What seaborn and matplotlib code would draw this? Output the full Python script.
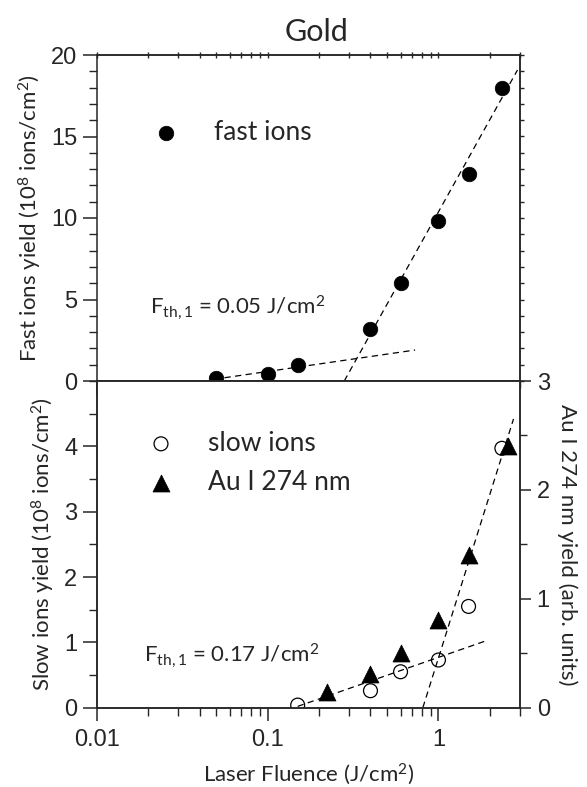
import matplotlib
matplotlib.use('Agg')
import matplotlib.pyplot as plt
import seaborn as sns
import pandas as pd
from matplotlib.ticker import FixedLocator, FixedFormatter, MultipleLocator, LogLocator, NullFormatter

# ---------------- data ----------------
fast_x = [0.05, 0.1, 0.15, 0.4, 0.6, 1.0, 1.5, 2.35]
fast_y = [0.16, 0.41, 0.98, 3.16, 6.0, 9.8, 12.7, 18.0]

slow_x = [0.15, 0.4, 0.6, 1.0, 1.5, 2.35]
slow_y = [0.04, 0.26, 0.55, 0.73, 1.55, 3.97]

au_x = [0.224, 0.4, 0.6, 1.0, 1.5, 2.55]
au_y = [0.147, 0.306, 0.50, 0.805, 1.40, 2.40]

# dashed fit lines (end points)
fast_fit_low_x = [0.056, 0.73]
fast_fit_low_y = [0.2, 1.9]
fast_fit_high_x = [0.281, 2.90]
fast_fit_high_y = [0.0, 19.08]
slow_fit_low_x = [0.15, 1.88]
slow_fit_low_y = [0.02, 1.02]
slow_fit_high_x = [0.81, 2.75]
slow_fit_high_y = [0.0, 4.42]

x_ticks = [0.01, 0.1, 1]
x_ticklabels = ['0.01', '0.1', '1']
fast_yticks = [0, 5, 10, 15, 20]
slow_yticks = [0, 1, 2, 3, 4]
au_yticks = [0, 1, 2, 3]

title = 'Gold'
xlabel = r'Laser Fluence (J/cm$^{2}$)'
ylabel_top = r'Fast ions yield (10$^{8}$ ions/cm$^{2}$)'
ylabel_bot = r'Slow ions yield (10$^{8}$ ions/cm$^{2}$)'
ylabel_right = 'Au I 274 nm yield (arb. units)'
ann_top = r'F$_{\rm th,1}$ = 0.05 J/cm$^{2}$'
ann_bot = r'F$_{\rm th,1}$ = 0.17 J/cm$^{2}$'

# ---------------- style ----------------
sns.set_theme(style='ticks')
plt.rcParams['font.family'] = ['Liberation Sans', 'DejaVu Sans']
plt.rcParams['mathtext.fontset'] = 'custom'
plt.rcParams['mathtext.rm'] = 'Lato'
plt.rcParams['mathtext.it'] = 'Lato:italic'
plt.rcParams['mathtext.bf'] = 'Lato:bold'
plt.rcParams['axes.linewidth'] = 1.1

LABEL_FONT = 'Lato'
LFS = 16      # axis labels
AFS = 16      # annotations
LEGFS = 19    # legend text
TFS = 17      # tick labels

W, H = 587, 787
fig = plt.figure(figsize=(W / 100, H / 100), dpi=100)
left, right = 96.7 / W, 520 / W
y_top_top = 1 - 55 / H
y_mid = 1 - 381 / H
y_bot = 1 - 707.7 / H

ax1 = fig.add_axes([left, y_mid, right - left, y_top_top - y_mid])
ax2 = fig.add_axes([left, y_bot, right - left, y_mid - y_bot])
ax3 = ax2.twinx()

dash = dict(color='black', lw=0.9, dashes=(5, 3.5))

# ---- top panel ----
df_fast = pd.DataFrame({'x': fast_x, 'y': fast_y})
sns.scatterplot(data=df_fast, x='x', y='y', ax=ax1, marker='o', s=110,
                color='black', edgecolor='black', linewidth=0.5, label='fast ions', zorder=3)
sns.lineplot(x=fast_fit_low_x, y=fast_fit_low_y, ax=ax1, **dash)
sns.lineplot(x=fast_fit_high_x, y=fast_fit_high_y, ax=ax1, **dash)

ax1.set_xscale('log')
ax1.set_xlim(0.01, 3.0)
ax1.set_ylim(0, 20)
ax1.yaxis.set_major_locator(FixedLocator(fast_yticks))
ax1.yaxis.set_minor_locator(MultipleLocator(1))
ax1.xaxis.set_major_locator(FixedLocator(x_ticks))
ax1.xaxis.set_minor_locator(LogLocator(base=10, subs=range(2, 10)))
ax1.xaxis.set_major_formatter(NullFormatter())
ax1.xaxis.set_minor_formatter(NullFormatter())
# bottom x ticks of the top panel point down into the lower panel
ax1.tick_params(axis='x', which='major', direction='out', length=10, width=1.1,
                bottom=True, top=False, labelbottom=False)
ax1.tick_params(axis='x', which='minor', direction='out', length=5, width=1.0,
                bottom=True, top=False)
ax1.tick_params(axis='y', which='major', direction='out', length=10, width=1.1,
                left=True, right=False, labelsize=TFS, pad=4)
ax1.tick_params(axis='y', which='minor', direction='out', length=6, width=1.0,
                left=True, right=False)
# short ticks on top and right spines of top panel
ax1t = ax1.secondary_xaxis('top')
ax1t.xaxis.set_major_locator(FixedLocator(x_ticks))
ax1t.xaxis.set_minor_locator(LogLocator(base=10, subs=range(2, 10)))
ax1t.xaxis.set_major_formatter(NullFormatter())
ax1t.xaxis.set_minor_formatter(NullFormatter())
ax1t.tick_params(axis='x', which='both', direction='inout', length=4, width=1.0)
ax1r = ax1.secondary_yaxis('right')
ax1r.yaxis.set_major_locator(MultipleLocator(1))
ax1r.yaxis.set_major_formatter(NullFormatter())
ax1r.tick_params(axis='y', which='both', direction='out', length=3, width=1.0)

ax1.set_xlabel('')
ax1.set_ylabel(ylabel_top, fontsize=LFS, fontfamily=LABEL_FONT, labelpad=5)
for sp in ax1.spines.values():
    sp.set_visible(True)
    sp.set_linewidth(1.1)
ax1.set_title(title, fontsize=22, fontfamily=LABEL_FONT, pad=10, x=0.52)

leg1 = ax1.legend(loc='center left', bbox_to_anchor=(0.1325, 0.763), frameon=False,
                  prop={'family': LABEL_FONT, 'size': LEGFS}, handlelength=1.0,
                  handletextpad=1.32, borderpad=0, borderaxespad=0)
ax1.text(0.0205, 4.12, ann_top, fontsize=AFS, fontfamily=LABEL_FONT, ha='left', va='baseline')

# ---- bottom panel ----
df_slow = pd.DataFrame({'x': slow_x, 'y': slow_y})
df_au = pd.DataFrame({'x': au_x, 'y': au_y})
sns.scatterplot(data=df_slow, x='x', y='y', ax=ax2, marker='o', s=100,
                facecolor='none', edgecolor='black', linewidth=0.9, label='slow ions', zorder=3)
sns.lineplot(x=slow_fit_low_x, y=slow_fit_low_y, ax=ax2, **dash)
sns.lineplot(x=slow_fit_high_x, y=slow_fit_high_y, ax=ax2, **dash)
sns.scatterplot(data=df_au, x='x', y='y', ax=ax3, marker='^', s=150,
                color='black', edgecolor='black', linewidth=0.5, label='Au I 274 nm', zorder=3)

ax2.set_xscale('log')
ax2.set_xlim(0.01, 3.0)
ax2.set_ylim(0, 5)
ax3.set_ylim(0, 3)
ax2.xaxis.set_major_locator(FixedLocator(x_ticks))
ax2.xaxis.set_major_formatter(FixedFormatter(x_ticklabels))
ax2.xaxis.set_minor_locator(LogLocator(base=10, subs=range(2, 10)))
ax2.xaxis.set_minor_formatter(NullFormatter())
ax2.yaxis.set_major_locator(FixedLocator(slow_yticks))
ax2.yaxis.set_minor_locator(MultipleLocator(0.5))
ax3.yaxis.set_major_locator(FixedLocator(au_yticks))
ax3.yaxis.set_minor_locator(MultipleLocator(0.5))
ax2.tick_params(axis='x', which='major', direction='out', length=9, width=1.1,
                labelsize=TFS, pad=6, top=False)
ax2.tick_params(axis='x', which='minor', direction='out', length=6, width=1.0, top=False)
ax2.tick_params(axis='y', which='major', direction='out', length=10, width=1.1,
                labelsize=TFS, pad=4, right=False)
ax2.tick_params(axis='y', which='minor', direction='out', length=6, width=1.0, right=False)
ax3.tick_params(axis='y', which='major', direction='out', length=8, width=1.1,
                labelsize=TFS, pad=4)
ax3.tick_params(axis='y', which='minor', direction='out', length=5, width=1.0)
ax2.set_xlabel(xlabel, fontsize=LFS, fontfamily=LABEL_FONT, labelpad=8)
ax2.set_ylabel(ylabel_bot, fontsize=LFS, fontfamily=LABEL_FONT, labelpad=5)
ax3.set_ylabel(ylabel_right, fontsize=LFS, fontfamily=LABEL_FONT, rotation=-90, labelpad=20)
for a in (ax2, ax3):
    for sp in a.spines.values():
        sp.set_visible(True)
        sp.set_linewidth(1.1)

if ax2.get_legend() is not None:
    ax2.get_legend().remove()
if ax3.get_legend() is not None:
    ax3.get_legend().remove()
h2, l2 = ax2.get_legend_handles_labels()
h3, l3 = ax3.get_legend_handles_labels()
ax3.legend(h2 + h3, l2 + l3, loc='center left', bbox_to_anchor=(0.1207, 0.749), frameon=False,
           prop={'family': LABEL_FONT, 'size': LEGFS}, handlelength=1.0,
           handletextpad=1.28, labelspacing=0.55, borderpad=0, borderaxespad=0)
ax2.text(0.0189, 0.70, ann_bot, fontsize=AFS, fontfamily=LABEL_FONT, ha='left', va='baseline')

fig.savefig('out.png', dpi=100)
